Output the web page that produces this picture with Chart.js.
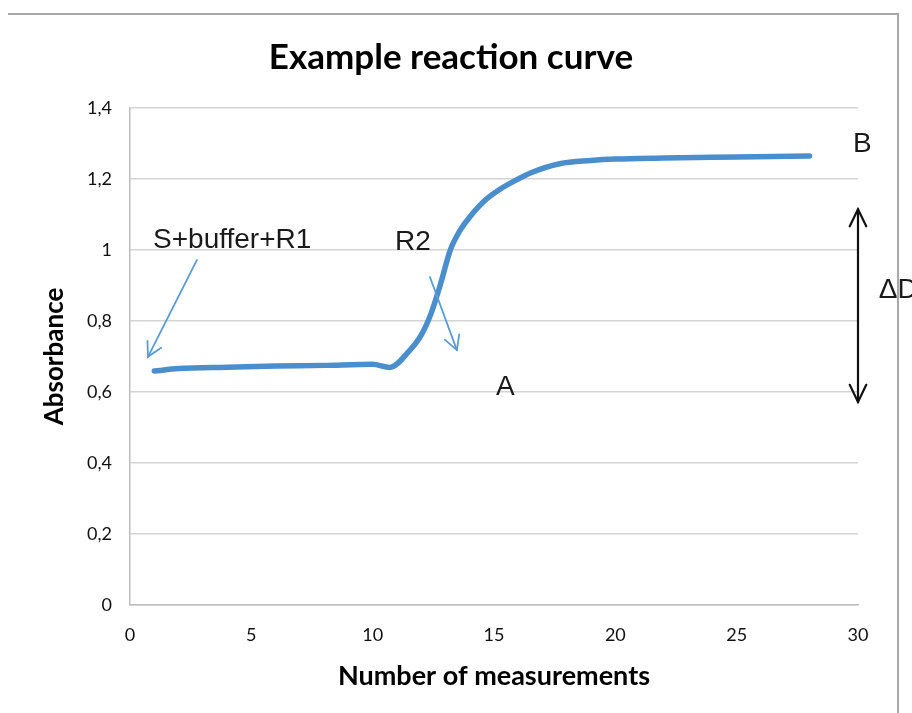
<!DOCTYPE html>
<html>
<head>
<meta charset="utf-8">
<script src="https://cdn.jsdelivr.net/npm/chart.js@4/dist/chart.umd.min.js"></script>
<style>
  html, body { margin: 0; padding: 0; background: #fff; }
  #wrap { position: relative; width: 912px; height: 713px; }
</style>
</head>
<body>
<div id="wrap"><canvas id="c"></canvas></div>
<script>
// ---- data ----
const measurements = [1, 2, 4, 6, 8, 10, 10.7, 11.5, 12, 12.4, 12.8, 13.2, 13.6, 14, 14.6, 15.2, 16, 16.5, 17.7, 19, 20, 22, 25, 28];
const absorbance   = [0.659, 0.666, 0.670, 0.673, 0.675, 0.678, 0.669, 0.715, 0.760, 0.820, 0.905, 1.000, 1.055, 1.093, 1.138, 1.169, 1.200, 1.217, 1.243, 1.252, 1.256, 1.259, 1.262, 1.265];
const yTickLabels  = ['0', '0,2', '0,4', '0,6', '0,8', '1', '1,2', '1,4'];
const xTickLabels  = ['0', '5', '10', '15', '20', '25', '30'];
const chartTitle   = 'Example reaction curve';
const xTitle       = 'Number of measurements';
const yTitle       = 'Absorbance';

// annotation labels (anchored in data units: x, y)
const labelTexts = ['S+buffer+R1', 'R2', 'A', 'B', '\u0394D'];
const labelX     = [0.95, 10.92, 15.08, 29.79, 30.86];
const labelY     = [1.006, 1.000, 0.592, 1.276, 0.865];
// pointer arrows (from -> to) in data units
const arrowFromX = [2.76, 12.36];
const arrowFromY = [0.972, 0.924];
const arrowToX   = [0.74, 13.47];
const arrowToY   = [0.699, 0.718];
// double arrow for delta D
const deltaX = 30, deltaTop = 1.115, deltaBottom = 0.572;

const points = measurements.map((x, i) => ({ x: x, y: absorbance[i] }));

function drawHead(ctx, x1, y1, x2, y2, len, ang) {
  const a = Math.atan2(y2 - y1, x2 - x1);
  ctx.beginPath();
  ctx.moveTo(x2 - len * Math.cos(a - ang), y2 - len * Math.sin(a - ang));
  ctx.lineTo(x2, y2);
  ctx.lineTo(x2 - len * Math.cos(a + ang), y2 - len * Math.sin(a + ang));
  ctx.stroke();
}

const decorations = {
  id: 'decorations',
  beforeDraw(chart) {
    const ctx = chart.ctx;
    ctx.save();
    ctx.fillStyle = '#fff';
    ctx.fillRect(0, 0, chart.width, chart.height);
    ctx.strokeStyle = '#a8a8a8';
    ctx.lineWidth = 2;
    ctx.beginPath();
    ctx.moveTo(8, 14);
    ctx.lineTo(898, 14);
    ctx.lineTo(898, chart.height);
    ctx.stroke();
    ctx.restore();
  },
  afterDraw(chart) {
    const ctx = chart.ctx;
    const xs = chart.scales.x, ys = chart.scales.y;
    ctx.save();
    // text labels
    ctx.font = '28px "Liberation Sans", Arial, sans-serif';
    ctx.fillStyle = '#1a1a1a';
    ctx.textAlign = 'left';
    ctx.textBaseline = 'alphabetic';
    labelTexts.forEach((t, i) => {
      ctx.fillText(t, xs.getPixelForValue(labelX[i]), ys.getPixelForValue(labelY[i]));
    });
    // blue pointer arrows
    ctx.strokeStyle = '#5b9bd5';
    ctx.lineWidth = 1.8;
    ctx.lineCap = 'round';
    arrowFromX.forEach((fx, i) => {
      const x1 = xs.getPixelForValue(fx), y1 = ys.getPixelForValue(arrowFromY[i]);
      const x2 = xs.getPixelForValue(arrowToX[i]), y2 = ys.getPixelForValue(arrowToY[i]);
      ctx.beginPath();
      ctx.moveTo(x1, y1);
      ctx.lineTo(x2, y2);
      ctx.stroke();
      drawHead(ctx, x1, y1, x2, y2, 16, 0.5);
    });
    // black double arrow
    ctx.strokeStyle = '#111';
    ctx.lineWidth = 2.2;
    const dx = xs.getPixelForValue(deltaX);
    const t = ys.getPixelForValue(deltaTop), b = ys.getPixelForValue(deltaBottom);
    ctx.beginPath();
    ctx.moveTo(dx, t);
    ctx.lineTo(dx, b);
    ctx.stroke();
    drawHead(ctx, dx, b, dx, t, 19, 0.45);
    drawHead(ctx, dx, t, dx, b, 19, 0.45);
    ctx.restore();
  }
};

new Chart(document.getElementById('c'), {
  type: 'line',
  data: {
    datasets: [{
      data: points,
      borderColor: '#4b8ecd',
      borderWidth: 5.5,
      borderCapStyle: 'round',
      borderJoinStyle: 'round',
      pointRadius: 0,
      fill: false,
      cubicInterpolationMode: 'monotone'
    }]
  },
  options: {
    responsive: true,
    maintainAspectRatio: false,
    animation: false,
    layout: { padding: { left: 0, right: 10, top: 0, bottom: 0 } },
    plugins: {
      legend: { display: false },
      tooltip: { enabled: false },
      title: {
        display: true,
        text: chartTitle,
        color: '#000',
        font: { family: 'Lato', size: 35, weight: 'bold', lineHeight: 1.2 },
        padding: { top: 37, bottom: 29 }
      }
    },
    scales: {
      x: {
        type: 'linear',
        min: 0, max: 30,
        grid: { display: false, drawTicks: false },
        border: { display: true, color: '#bdbdbd', width: 1.5 },
        ticks: {
          stepSize: 5,
          padding: 19,
          color: '#111',
          font: { family: 'Lato', size: 18 },
          callback: (v, i) => xTickLabels[i]
        },
        title: {
          display: true,
          text: xTitle,
          color: '#000',
          font: { family: 'Lato', size: 27, weight: 'bold', lineHeight: 1.2 },
          padding: { top: 0, bottom: 21 }
        },
        afterFit: s => { s.height = 108; }
      },
      y: {
        min: 0, max: 1.4,
        grid: { color: '#d4d4d4', lineWidth: 1.5, drawTicks: false },
        border: { display: true, color: '#bdbdbd', width: 1.5 },
        ticks: {
          stepSize: 0.2,
          padding: 18,
          color: '#111',
          font: { family: 'Lato', size: 18 },
          callback: (v, i) => yTickLabels[i]
        },
        title: {
          display: true,
          text: yTitle,
          color: '#000',
          font: { family: 'Lato', size: 26, weight: 'bold', lineHeight: 1.2 },
          padding: { top: 39, bottom: 0 }
        },
        afterFit: s => { s.width = 130; }
      },
      y2: {
        position: 'right',
        display: true,
        min: 0, max: 1.4,
        grid: { display: false, drawTicks: false },
        border: { display: false },
        ticks: { display: false },
        afterFit: s => { s.width = 44; }
      }
    }
  },
  plugins: [decorations]
});
</script>
</body>
</html>
